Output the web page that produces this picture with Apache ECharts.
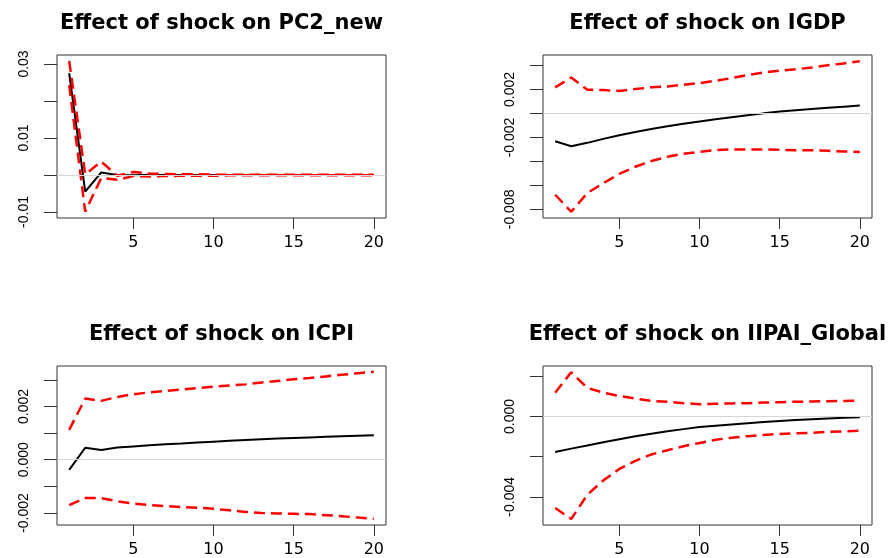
<!DOCTYPE html>
<html>
<head>
<meta charset="utf-8">
<script src="https://cdn.jsdelivr.net/npm/echarts@6/dist/echarts.min.js"></script>
<style>
html,body{margin:0;padding:0;background:#fff;}
#chart{width:896px;height:558px;}
</style>
</head>
<body>
<div id="chart"></div>
<script>
const horizons = [1,2,3,4,5,6,7,8,9,10,11,12,13,14,15,16,17,18,19,20];
const xTicks = [5,10,15,20];

const titles = ["Effect of shock on PC2_new","Effect of shock on IGDP","Effect of shock on ICPI","Effect of shock on IIPAI_Global"];

// PC2_new
const pc2Irf   = [0.0275,-0.0045,0.0007,0.0000,-0.0001,0.0001,0.0000,0.0000,0.0000,0.0000,0.0000,0.0000,0.0000,0.0000,0.0000,0.0000,0.0000,0.0000,0.0000,0.0000];
const pc2Upper = [0.0308,0.0002,0.0036,-0.0002,0.0008,0.0004,0.0003,0.0002,0.0002,0.0001,0.0001,0.0001,0.0001,0.0001,0.0001,0.0001,0.0001,0.0001,0.0001,0.0001];
const pc2Lower = [0.0243,-0.0099,-0.0008,-0.0013,-0.0003,-0.0004,-0.0003,-0.0002,-0.0002,-0.0002,-0.0001,-0.0001,-0.0001,-0.0001,-0.0001,-0.0001,-0.0001,-0.0001,-0.0001,-0.0001];
// IGDP
const igdpIrf   = [-0.00231,-0.00273,-0.00245,-0.00212,-0.00182,-0.00155,-0.00130,-0.00107,-0.00086,-0.00066,-0.00048,-0.00031,-0.00015,0.00001,0.00016,0.00027,0.00038,0.00048,0.00057,0.00066];
const igdpUpper = [0.00218,0.00300,0.00198,0.00196,0.00187,0.00204,0.00218,0.00226,0.00240,0.00253,0.00273,0.00295,0.00320,0.00342,0.00358,0.00369,0.00383,0.00402,0.00418,0.00436];
const igdpLower = [-0.00678,-0.00820,-0.00664,-0.00581,-0.00504,-0.00444,-0.00397,-0.00361,-0.00336,-0.00320,-0.00306,-0.00300,-0.00300,-0.00300,-0.00303,-0.00306,-0.00306,-0.00311,-0.00317,-0.00322];
// ICPI
const icpiIrf   = [-0.00038,0.00045,0.00037,0.00046,0.00050,0.00054,0.00058,0.00061,0.00065,0.00068,0.00071,0.00074,0.00077,0.00080,0.00082,0.00084,0.00086,0.00088,0.00090,0.00092];
const icpiUpper = [0.00112,0.00230,0.00221,0.00236,0.00246,0.00253,0.00258,0.00264,0.00269,0.00274,0.00279,0.00283,0.00290,0.00296,0.00302,0.00307,0.00313,0.00319,0.00325,0.00330];
const icpiLower = [-0.00170,-0.00144,-0.00144,-0.00156,-0.00165,-0.00170,-0.00174,-0.00178,-0.00180,-0.00184,-0.00190,-0.00196,-0.00200,-0.00202,-0.00203,-0.00204,-0.00208,-0.00212,-0.00217,-0.00222];
// IIPAI_Global
const iipIrf   = [-0.00177,-0.00160,-0.00144,-0.00128,-0.00113,-0.00099,-0.00086,-0.00074,-0.00063,-0.00053,-0.00046,-0.00040,-0.00034,-0.00028,-0.00023,-0.00018,-0.00014,-0.00010,-0.00007,-0.00004];
const iipUpper = [0.00118,0.00220,0.00142,0.00118,0.00102,0.00089,0.00077,0.00073,0.00066,0.00061,0.00063,0.00065,0.00066,0.00069,0.00071,0.00073,0.00074,0.00076,0.00077,0.00078];
const iipLower = [-0.00455,-0.00510,-0.00390,-0.00318,-0.00261,-0.00221,-0.00189,-0.00168,-0.00148,-0.00132,-0.00116,-0.00106,-0.00098,-0.00092,-0.00087,-0.00084,-0.00081,-0.00077,-0.00074,-0.00071];

// y-axis ticks and labelled ticks
const yTicks1 = [-0.01,0,0.01,0.02,0.03];       const yLabels1 = [-0.01,0.01,0.03];
const yTicks2 = [-0.008,-0.006,-0.004,-0.002,0,0.002,0.004]; const yLabels2 = [-0.008,-0.002,0.002];
const yTicks3 = [-0.002,-0.001,0,0.001,0.002,0.003]; const yLabels3 = [-0.002,0,0.002];
const yTicks4 = [-0.004,-0.002,0,0.002];         const yLabels4 = [-0.004,0];

const panels = [
  {irf: pc2Irf, up: pc2Upper, lo: pc2Lower, ticks: yTicks1, labels: yLabels1, dec: 2, min: -0.01162, max: 0.03243},
  {irf: igdpIrf, up: igdpUpper, lo: igdpLower, ticks: yTicks2, labels: yLabels2, dec: 3, min: -0.00872, max: 0.00488},
  {irf: icpiIrf, up: icpiUpper, lo: icpiLower, ticks: yTicks3, labels: yLabels3, dec: 3, min: -0.00245, max: 0.00352},
  {irf: iipIrf, up: iipUpper, lo: iipLower, ticks: yTicks4, labels: yLabels4, dec: 3, min: -0.0054, max: 0.00251}
];

const gridPos = [
  {left: 57, top: 55}, {left: 543, top: 55}, {left: 57, top: 366}, {left: 543, top: 366}
];
const gridW = 329, gridH = 163;

const pairs = arr => horizons.map((h, i) => [h, arr[i]]);

const option = {
  animation: false,
  backgroundColor: '#fff',
  title: gridPos.map((g, i) => ({
    text: titles[i],
    left: g.left + gridW / 2,
    top: g.top - 42,
    textAlign: 'center',
    padding: 0,
    textStyle: {fontFamily: 'DejaVu Sans', fontWeight: 'bold', fontSize: 21, color: '#000'}
  })),
  grid: gridPos.map(g => ({
    left: g.left, top: g.top, width: gridW, height: gridH,
    show: true, borderColor: '#333', borderWidth: 1, backgroundColor: 'transparent'
  })),
  xAxis: gridPos.map((g, i) => ({
    type: 'value', gridIndex: i, min: 0.24, max: 20.76, position: 'bottom',
    axisLine: {show: false, onZero: false}, splitLine: {show: false},
    axisTick: {show: true, inside: false, length: 11, customValues: xTicks, lineStyle: {color: '#333', width: 1}},
    axisLabel: {customValues: xTicks, margin: 17, color: '#000', fontFamily: 'DejaVu Sans', fontSize: 16}
  })),
  yAxis: panels.map((p, i) => ({
    type: 'value', gridIndex: i, min: p.min, max: p.max, position: 'left',
    axisLine: {show: false, onZero: false}, splitLine: {show: false},
    axisTick: {show: true, inside: false, length: 13, customValues: p.ticks, lineStyle: {color: '#333', width: 1}},
    axisLabel: {customValues: p.labels, rotate: 90, margin: 26, color: '#000',
      fontFamily: 'Liberation Sans', fontSize: 14,
      formatter: v => Number(v).toFixed(p.dec)}
  })),
  series: []
};

panels.forEach((p, i) => {
  option.series.push({
    type: 'line', xAxisIndex: i, yAxisIndex: i, data: [], z: 1, silent: true,
    markLine: {silent: true, symbol: ['none','none'], label: {show: false},
      lineStyle: {color: '#d6d6d6', type: 'solid', width: 1.2}, data: [{yAxis: 0}]}
  });
  option.series.push({
    type: 'line', xAxisIndex: i, yAxisIndex: i, data: pairs(p.irf), z: 2,
    showSymbol: false, lineStyle: {color: '#000', width: 2}
  });
  [p.up, p.lo].forEach(b => option.series.push({
    type: 'line', xAxisIndex: i, yAxisIndex: i, data: pairs(b), z: 3,
    showSymbol: false, lineStyle: {color: '#ff0000', width: 2.5, type: [11, 6]}
  }));
});

const chart = echarts.init(document.getElementById('chart'), null, {renderer: 'canvas'});
chart.setOption(option);
</script>
</body>
</html>
